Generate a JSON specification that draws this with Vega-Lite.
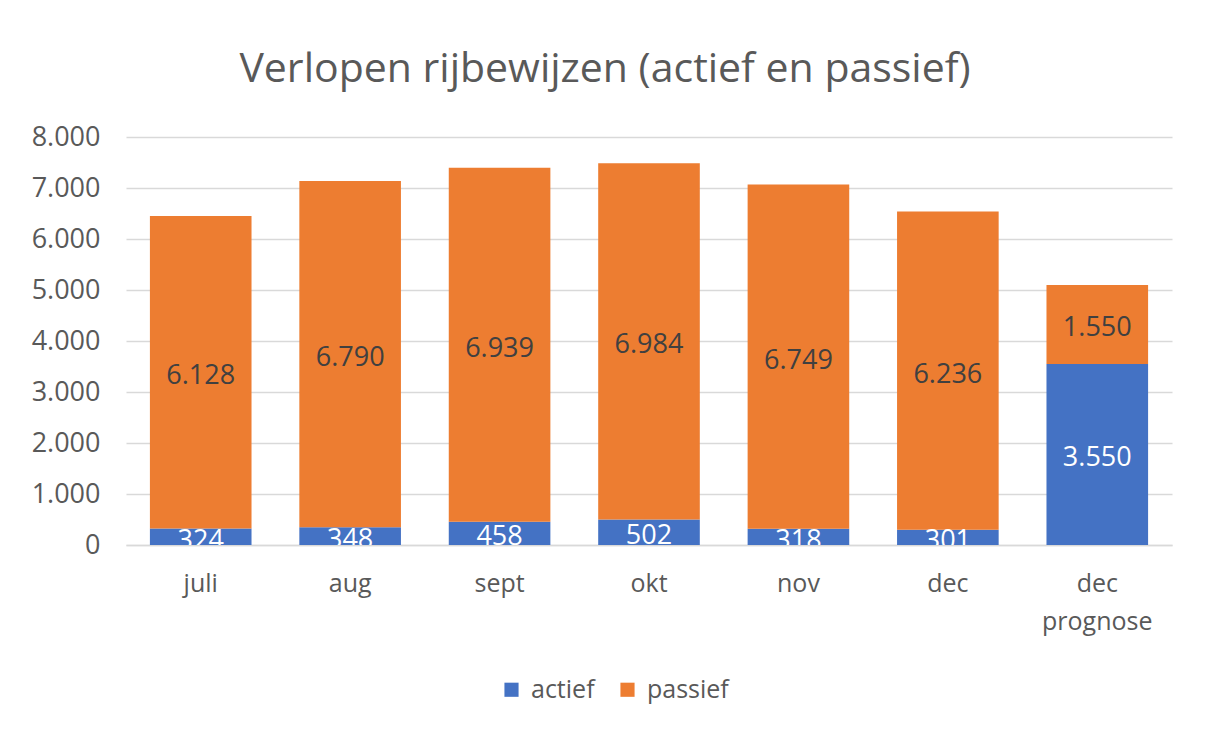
{
  "$schema": "https://vega.github.io/schema/vega-lite/v6.json",
  "width": 1046,
  "height": 408,
  "autosize": {"type": "none"},
  "padding": {"left": 126, "top": 137, "right": 34, "bottom": 188},
  "background": "white",
  "config": {
    "locale": {"number": {"decimal": ",", "thousands": ".", "grouping": [3], "currency": ["€", ""]}},
    "font": "Open Sans",
    "view": {"stroke": null}
  },
  "title": {
    "text": "Verlopen rijbewijzen (actief en passief)",
    "fontSize": 41,
    "font": "Open Sans",
    "fontWeight": "normal",
    "color": "#595959",
    "anchor": "middle",
    "dx": -44,
    "offset": 32
  },
  "data": {
    "values": [
      {"maand": "juli", "serie": "actief", "aantal": 324},
      {"maand": "juli", "serie": "passief", "aantal": 6128},
      {"maand": "aug", "serie": "actief", "aantal": 348},
      {"maand": "aug", "serie": "passief", "aantal": 6790},
      {"maand": "sept", "serie": "actief", "aantal": 458},
      {"maand": "sept", "serie": "passief", "aantal": 6939},
      {"maand": "okt", "serie": "actief", "aantal": 502},
      {"maand": "okt", "serie": "passief", "aantal": 6984},
      {"maand": "nov", "serie": "actief", "aantal": 318},
      {"maand": "nov", "serie": "passief", "aantal": 6749},
      {"maand": "dec", "serie": "actief", "aantal": 301},
      {"maand": "dec", "serie": "passief", "aantal": 6236},
      {"maand": "dec prognose", "serie": "actief", "aantal": 3550},
      {"maand": "dec prognose", "serie": "passief", "aantal": 1550}
    ]
  },
  "transform": [
    {"stack": "aantal", "groupby": ["maand"], "sort": [{"field": "serie", "order": "ascending"}], "as": ["y0", "y1"]},
    {"calculate": "(datum.y0 + datum.y1) / 2", "as": "ymid"}
  ],
  "encoding": {
    "x": {
      "field": "maand",
      "type": "nominal",
      "sort": null,
      "scale": {"paddingInner": 0.32, "paddingOuter": 0.16},
      "axis": {
        "title": null,
        "labelAngle": 0,
        "labelFontSize": 25,
        "labelColor": "#595959",
        "labelPadding": 26,
        "labelExpr": "split(datum.label, ' ')",
        "labelLineHeight": 38,
        "ticks": false,
        "domainColor": "#d9d9d9",
        "domainWidth": 1.5,
        "grid": false
      }
    }
  },
  "layer": [
    {
      "mark": {"type": "bar"},
      "encoding": {
        "y": {
          "field": "y0",
          "type": "quantitative",
          "scale": {"domain": [0, 8000]},
          "axis": {
            "title": null,
            "values": [0, 1000, 2000, 3000, 4000, 5000, 6000, 7000, 8000],
            "format": ",d",
            "labelFontSize": 27,
            "labelColor": "#595959",
            "labelPadding": 26,
            "ticks": false,
            "domain": false,
            "gridColor": "#d9d9d9",
            "gridWidth": 1.5
          }
        },
        "y2": {"field": "y1"},
        "color": {
          "field": "serie",
          "type": "nominal",
          "scale": {"domain": ["actief", "passief"], "range": ["#4472C4", "#ED7D31"]},
          "legend": {
            "title": null,
            "orient": "none",
            "direction": "horizontal",
            "legendX": 373,
            "legendY": 540,
            "symbolType": "square",
            "symbolSize": 200,
            "symbolStrokeWidth": 0,
            "labelFontSize": 25,
            "labelColor": "#595959",
            "labelOffset": 7,
            "columnPadding": 20
          }
        }
      }
    },
    {
      "mark": {"type": "text", "fontSize": 27, "baseline": "middle", "align": "center", "clip": true, "dy": 4},
      "encoding": {
        "y": {"field": "ymid", "type": "quantitative"},
        "text": {"field": "aantal", "type": "quantitative", "format": ",d"},
        "color": {
          "condition": {"test": "datum.serie === 'actief'", "value": "#ffffff"},
          "value": "#404040"
        }
      }
    }
  ]
}
